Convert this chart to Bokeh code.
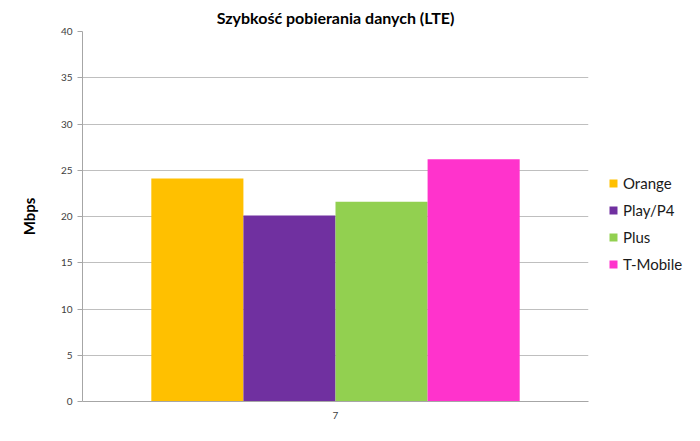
from bokeh.plotting import figure
from bokeh.models import Range1d, SingleIntervalTicker, Legend, LegendItem, Title
from bokeh.transform import dodge
from bokeh.embed import file_html
from bokeh.resources import INLINE

# data
categories = ["7"]
operators = ["Orange", "Play/P4", "Plus", "T-Mobile"]
speeds = [24.1, 20.1, 21.6, 26.2]
colors = ["#FFC000", "#7030A0", "#92D050", "#FF33CC"]

FONT = "Lato"
bar_w = 0.182

p = figure(x_range=categories, y_range=Range1d(0, 40),
           frame_width=506, frame_height=370,
           min_border_left=82, min_border_right=96,
           min_border_top=23, min_border_bottom=32,
           output_backend="svg", toolbar_location=None)

p.title = Title(text="Szybkość pobierania danych (LTE)", align="center",
                text_font=FONT, text_font_size="16px", text_font_style="bold",
                text_color="black", offset=13)

items = []
for i, (name, val, col) in enumerate(zip(operators, speeds, colors)):
    off = (i - (len(operators) - 1) / 2) * bar_w
    r = p.vbar(x=dodge("x", off, range=p.x_range), top="top", width=bar_w,
               source=dict(x=categories, top=[val]),
               fill_color=col, line_color=None)
    items.append(LegendItem(label=name, renderers=[r]))

legend = Legend(items=items, location=(20, 127), border_line_color=None,
                background_fill_alpha=0, margin=0, padding=0,
                glyph_width=10, glyph_height=10, label_standoff=5,
                label_height=20, spacing=7,
                label_text_font=FONT, label_text_font_size="15px",
                label_text_color="#1a1a1a")
p.add_layout(legend, "right")

# y axis
p.yaxis.ticker = SingleIntervalTicker(interval=5)
p.yaxis.axis_label = "Mbps"
p.yaxis.axis_label_text_font = FONT
p.yaxis.axis_label_text_font_size = "15px"
p.yaxis.axis_label_text_font_style = "bold"
p.yaxis.axis_label_text_color = "black"
p.yaxis.axis_label_standoff = 20
p.yaxis.major_label_text_font = FONT
p.yaxis.major_label_text_font_size = "10px"
p.yaxis.major_label_text_color = "#404040"
p.yaxis.major_tick_out = 5
p.yaxis.major_tick_in = 0
p.yaxis.minor_tick_line_color = None
p.yaxis.axis_line_color = "#A6A6A6"
p.yaxis.major_tick_line_color = "#A6A6A6"

# x axis
p.xaxis.major_label_text_font = FONT
p.xaxis.major_label_text_font_size = "10px"
p.xaxis.major_label_text_color = "#404040"
p.xaxis.major_tick_line_color = None
p.xaxis.axis_line_color = "#A6A6A6"
p.xaxis.major_label_standoff = 4

p.xgrid.grid_line_color = None
p.ygrid.grid_line_color = "#BFBFBF"
p.ygrid.grid_line_width = 1
p.outline_line_color = None
p.background_fill_color = "white"
p.border_fill_color = "white"

open("out.html", "w").write(file_html(p, INLINE))
